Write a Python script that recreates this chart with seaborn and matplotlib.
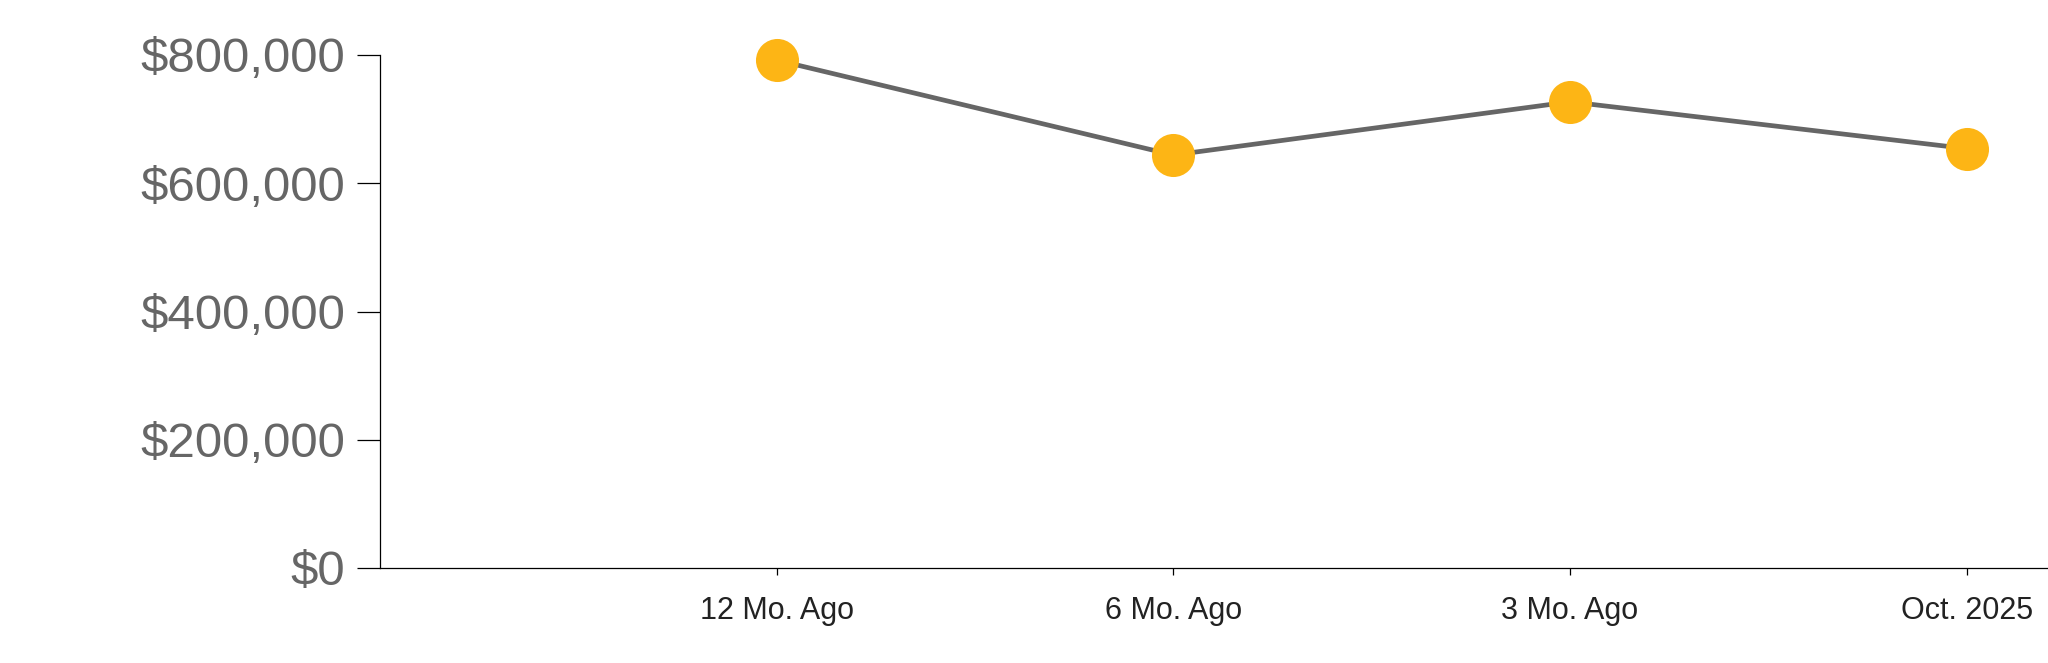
import matplotlib
matplotlib.use("Agg")
import matplotlib.pyplot as plt
import seaborn as sns
import pandas as pd
from matplotlib.ticker import FuncFormatter

categories = ["12 Mo. Ago", "6 Mo. Ago", "3 Mo. Ago", "Oct. 2025"]
values = [792000, 644000, 727000, 654000]
y_ticks = [0, 200000, 400000, 600000, 800000]

sns.set_theme(style="white")
plt.rcParams['font.family'] = ['Liberation Sans', 'DejaVu Sans']

df = pd.DataFrame({"period": categories, "value": values})

fig = plt.figure(figsize=(20.48, 6.63), dpi=100)
ax = fig.add_axes([380/2048, 1 - 568/663, 1 - 380/2048, (568 - 55)/663])

sns.lineplot(data=df, x="period", y="value", ax=ax, color="#666666",
             linewidth=3.4, marker="o", markersize=31,
             markerfacecolor="#FDB515", markeredgecolor="#FDB515",
             markeredgewidth=0, clip_on=False, zorder=3)

ax.set_xlim(-1, 3.205)
ax.set_ylim(0, 800000)
ax.set_yticks(y_ticks)
ax.yaxis.set_major_formatter(FuncFormatter(lambda v, p: "${:,.0f}".format(v)))
ax.set_xlabel("")
ax.set_ylabel("")

for s in ["top", "right"]:
    ax.spines[s].set_visible(False)
for s in ["left", "bottom"]:
    ax.spines[s].set_color("#000000")
    ax.spines[s].set_linewidth(0.9)

ax.tick_params(axis="y", which="major", left=True, length=16.5, width=0.9,
               color="#000000", pad=8.5, labelsize=35.5, labelcolor="#666666")
ax.tick_params(axis="x", which="major", bottom=True, length=5, width=0.9,
               color="#000000", pad=15, labelsize=22, labelcolor="#222222")
ax.grid(False)

fig.savefig("out.png", dpi=100, facecolor="white")
